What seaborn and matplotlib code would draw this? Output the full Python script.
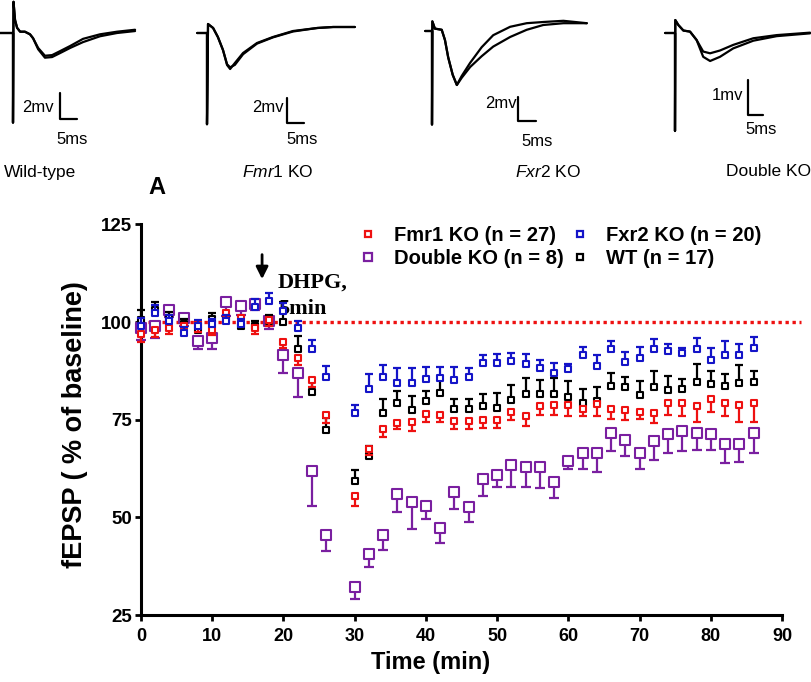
import numpy as np
import pandas as pd
import matplotlib
matplotlib.use("Agg")
import matplotlib.pyplot as plt
import seaborn as sns
from matplotlib.lines import Line2D

#time points of the dhpg experiment (min)
time_min = [0, 2, 4, 6, 8, 10, 12, 14, 16, 18, 20, 22, 24, 26, 28, 30, 32, 34, 36, 38, 40, 42,
            44, 46, 48, 50, 52, 54, 56, 58, 60, 62, 64, 66, 68, 70, 72, 74, 76, 78, 80, 82, 84, 86]
nan = np.nan

#fEPSP as % of baseline, mean and one sided sem
fmr1_mean = [97.0, 98.1, 98.5, 98.9, 99.5, 98.1, 102.3, 101.1, 98.5, 100.6, 94.9, 90.9, 85.3, 76.1, nan,
             55.6, 67.5, 72.6, 74.1, 74.3, 76.4, 76.1, 74.7, 74.7, 75.0, 75.0, 77.1, 76.0, 78.4, 78.7,
             78.7, 77.8, 79.0, 77.8, 77.5, 77.1, 76.8, 79.4, 79.4, 78.4, 80.2, 79.2, 78.7, 79.2]
fmr1_sem = [2.0, 2.0, 1.5, 1.5, 2.0, 1.5, 1.5, 1.5, 1.5, 1.5, 1.5, 2.0, 2.0, 2.0, nan,
            2.6, 1.5, 2.1, 1.5, 2.1, 2.1, 1.7, 2.0, 2.0, 2.0, 2.0, 2.2, 2.6, 2.1, 2.5,
            2.7, 1.9, 3.0, 2.7, 2.6, 2.0, 2.6, 3.2, 3.4, 4.1, 3.2, 3.2, 4.4, 4.9]

fxr2_mean = [99.0, 102.3, 100.2, 97.2, 99.0, 99.4, 100.2, 99.4, 104.0, 105.3, 102.8, 98.5, 93.0, 86.0, nan,
             76.8, 82.8, 86.0, 84.5, 84.5, 85.5, 85.8, 85.3, 85.9, 89.6, 89.6, 90.0, 89.2, 88.3, 86.9,
             87.9, 91.7, 88.7, 93.0, 89.8, 90.9, 93.2, 92.6, 92.0, 93.2, 90.4, 91.5, 91.5, 93.4]
fxr2_sem = [2.0, 2.0, 1.5, 1.5, 1.5, 1.5, 1.5, 1.5, 2.0, 2.1, 2.0, 1.7, 2.5, 2.7, nan,
            2.1, 3.8, 2.9, 3.7, 3.7, 3.1, 2.8, 3.2, 2.4, 1.9, 2.3, 2.1, 2.6, 2.1, 2.7,
            1.4, 2.0, 3.0, 2.1, 2.6, 2.8, 2.6, 1.7, 1.4, 2.8, 3.0, 3.7, 3.0, 2.8]

wt_mean = [100.5, 103.2, 101.1, 99.4, 98.1, 100.8, 101.3, 98.9, 98.9, 100.2, 100.0, 93.2, 82.1, 72.4, nan,
           59.4, 65.8, 76.7, 79.2, 77.4, 79.8, 81.8, 77.7, 77.7, 78.4, 78.1, 80.1, 81.5, 81.5, 81.5,
           80.7, 79.2, 79.8, 83.6, 83.4, 81.3, 83.4, 82.5, 82.9, 84.7, 84.1, 83.6, 84.3, 84.7]
wt_sem = [2.5, 1.9, 1.5, 1.5, 1.5, 1.5, 1.5, 1.5, 1.5, 1.5, 5.1, 3.3, 2.8, 3.1, nan,
          2.8, 2.5, 3.6, 3.1, 3.8, 2.6, 3.6, 2.7, 2.6, 3.1, 3.8, 3.7, 4.3, 3.7, 4.3,
          4.3, 3.7, 3.7, 3.4, 2.6, 3.6, 4.0, 3.6, 2.6, 4.6, 3.4, 3.2, 4.8, 2.8]

dko_mean = [98.5, 98.9, 103.2, 101.1, 95.1, 96.0, 105.1, 104.2, 104.7, 100.2, 91.7, 87.0, 61.9, 45.4, nan,
            32.2, 40.7, 45.4, 56.0, 53.9, 53.0, 47.2, 56.4, 52.6, 59.8, 60.8, 63.3, 62.8, 62.8, 59.0,
            64.5, 66.6, 66.6, 71.7, 69.9, 66.6, 69.6, 71.3, 72.0, 71.5, 71.3, 68.7, 68.9, 71.7]
dko_sem = [3.0, 2.9, 2.0, 2.0, 2.0, 3.0, 3.6, 2.5, 1.7, 2.0, 4.8, 6.3, 9.0, 3.9, nan,
           3.0, 3.4, 3.8, 4.6, 6.8, 3.4, 3.8, 4.2, 3.8, 4.3, 3.1, 5.6, 4.9, 5.4, 4.0,
           2.1, 4.2, 5.1, 4.8, 4.1, 4.2, 4.9, 4.7, 4.9, 4.2, 4.0, 4.9, 4.8, 5.1]

#example fEPSP traces (ms, mV), two traces per genotype (baseline and after dhpg)
wt_ms = [-3.8, 0, 0, 0.15, 0.6, 1.2, 2.1, 3.5, 5.0, 5.9, 7.4, 9.4, 11.5, 13.8, 16.8, 20.6, 25.6, 30.6, 35.9]
wt_a = [0, 0, -6.9, 2.4, 1.0, 0.4, 0.1, 0.1, -0.1, -0.4, -1.15, -1.75, -1.7, -1.4, -1.0, -0.45, -0.1, 0.1, 0.25]
wt_b = [0, 0, -6.9, 2.4, 1.0, 0.4, 0.1, 0.1, -0.1, -0.4, -1.25, -1.9, -1.85, -1.55, -1.15, -0.7, -0.25, 0.0, 0.15]

fmr1_ms = [-2.9, 0, 0, 0.3, 1.8, 3.2, 4.7, 5.9, 6.8, 8.2, 10.6, 14.7, 19.4, 25.3, 32.4, 37.1, 43.5]
fmr1_a = [0, 0, -7.3, 0.72, 0.4, -0.32, -1.36, -2.56, -2.88, -2.4, -1.6, -0.8, -0.32, 0.16, 0.4, 0.48, 0.48]
fmr1_b = [0, 0, -7.3, 0.72, 0.4, -0.32, -1.36, -2.5, -2.75, -2.55, -1.7, -0.85, -0.35, 0.12, 0.4, 0.48, 0.48]

fxr2_ms = [-1.9, 0, 0, 0.1, 0.8, 2.7, 3.6, 4.5, 5.75, 6.9, 8.25, 10.6, 13.8, 17.0, 21.7, 26.3, 30.9, 36.5, 43.0]
fxr2_a = [0, 0, -7.8, 0.8, 0.2, 0.1, -0.75, -2.2, -3.65, -4.5, -3.75, -2.65, -1.35, -0.35, 0.35, 0.65, 0.75, 0.85, 0.65]
fxr2_b = [0, 0, -7.8, 0.8, 0.2, 0.1, -0.75, -2.2, -3.65, -4.5, -3.9, -3.0, -2.1, -1.3, -0.5, 0.1, 0.5, 0.65, 0.65]

dko_ms = [-3.3, 0, 0, 0.1, 1.1, 2.8, 5.0, 7.2, 9.4, 11.7, 15.0, 19.4, 26.1, 33.9, 45.0]
dko_a = [0, 0, -2.8, 0.37, 0.23, 0.07, 0.04, -0.2, -0.53, -0.58, -0.5, -0.34, -0.15, -0.06, 0.01]
dko_b = [0, 0, -2.8, 0.37, 0.23, 0.07, 0.04, -0.2, -0.68, -0.8, -0.68, -0.44, -0.22, -0.09, -0.01]

sns.set_style("ticks")
plt.rcParams['font.family'] = ['Liberation Sans', 'DejaVu Sans']
plt.rcParams['mathtext.fontset'] = 'custom'
plt.rcParams['mathtext.it'] = 'Liberation Sans:italic'
plt.rcParams['mathtext.rm'] = 'Liberation Sans'
for key in ['text.color', 'axes.labelcolor', 'xtick.color', 'ytick.color', 'axes.edgecolor']:
    plt.rcParams[key] = 'black'

W, H = 812, 682
fig = plt.figure(figsize=(W / 100, H / 100), dpi=100)


def px_axes(x0, y0, x1, y1):
    #axes from a pixel box (top left origin)
    return fig.add_axes([x0 / W, 1 - y1 / H, (x1 - x0) / W, (y1 - y0) / H])


def fig_text(x, y, s, **kw):
    fig.text(x / W, 1 - y / H, s, **kw)


#top row: example traces with scale bars
panels = [
    #box, origin px, px per ms, px per mV, bar corner px, bar mV, traces
    dict(box=(0, 0, 150, 150), o=(13, 33), sx=3.4, sy=13.0, bar=(60, 119), mv=2,
         ms=wt_ms, a=wt_a, b=wt_b),
    dict(box=(185, 0, 370, 150), o=(207, 33), sx=3.4, sy=12.5, bar=(287, 123), mv=2,
         ms=fmr1_ms, a=fmr1_a, b=fmr1_b),
    dict(box=(415, 0, 600, 150), o=(432, 31), sx=3.6, sy=12.0, bar=(518, 121), mv=2,
         ms=fxr2_ms, a=fxr2_a, b=fxr2_b),
    dict(box=(655, 0, 812, 150), o=(675, 33), sx=3.0, sy=35.0, bar=(748, 115), mv=1,
         ms=dko_ms, a=dko_a, b=dko_b),
]
for p in panels:
    x0, y0, x1, y1 = p["box"]
    ox, oy = p["o"]
    axt = px_axes(x0, y0, x1, y1)
    axt.set_xlim((x0 - ox) / p["sx"], (x1 - ox) / p["sx"])
    axt.set_ylim((oy - y1) / p["sy"], (oy - y0) / p["sy"])
    axt.axis("off")
    axt.plot(p["ms"], p["a"], color="black", lw=1.6, clip_on=False)
    axt.plot(p["ms"], p["b"], color="black", lw=1.6, clip_on=False)
    cx = (p["bar"][0] - ox) / p["sx"]
    cy = (oy - p["bar"][1]) / p["sy"]
    axt.plot([cx, cx, cx + 5], [cy + p["mv"], cy, cy], color="black", lw=1.6, clip_on=False)

bar_font = dict(fontsize=12, color="black")
fig_text(54, 107, "2mv", ha="right", va="center", **bar_font)
fig_text(72, 140, "5ms", ha="center", va="center", **bar_font)
fig_text(284, 108, "2mv", ha="right", va="center", **bar_font)
fig_text(302, 140, "5ms", ha="center", va="center", **bar_font)
fig_text(517, 104, "2mv", ha="right", va="center", **bar_font)
fig_text(537, 142, "5ms", ha="center", va="center", **bar_font)
fig_text(743, 95, "1mv", ha="right", va="center", **bar_font)
fig_text(761, 130, "5ms", ha="center", va="center", **bar_font)

fig_text(4, 172, "Wild-type", ha="left", va="center", fontsize=12.5)
fig_text(278, 172, r"$\mathit{Fmr1}$ KO", ha="center", va="center", fontsize=12.5)
fig_text(548, 172, r"$\mathit{Fxr2}$ KO", ha="center", va="center", fontsize=12.5)
fig_text(811, 172, "Double KO", ha="right", va="center", fontsize=12.5)

fig_text(148, 187, "A", ha="left", va="center", fontsize=17, fontweight="bold")

#main time course panel
ax = px_axes(141, 224.5, 782, 615)

red = "#EE1111"
blue = "#1414C8"
purple = "#7A1FA0"
series = [
    #label, mean, sem, error side, colour, marker size (pt), cap (pt)
    ("Double KO (n = 8)", dko_mean, dko_sem, "down", purple, 7.2, 3.6),
    ("WT (n = 17)", wt_mean, wt_sem, "up", "black", 5.0, 2.9),
    ("Fmr1 KO (n = 27)", fmr1_mean, fmr1_sem, "down", red, 5.0, 2.9),
    ("Fxr2 KO (n = 20)", fxr2_mean, fxr2_sem, "up", blue, 5.0, 2.9),
]

for z, (label, mean, sem, side, color, msize, cap) in enumerate(series):
    mean = np.array(mean, dtype=float)
    sem = np.array(sem, dtype=float)
    zero = np.zeros_like(sem)
    yerr = [sem, zero] if side == "down" else [zero, sem]
    ax.errorbar(time_min, mean, yerr=yerr, fmt="none", ecolor=color, elinewidth=1.6,
                capsize=cap, capthick=1.6, zorder=3 + 2 * z, clip_on=False)
    df = pd.DataFrame({"time": time_min, "value": mean}).dropna()
    sns.scatterplot(data=df, x="time", y="value", marker="s", s=msize ** 2,
                    color="white", edgecolor=color, linewidth=1.5, ax=ax,
                    zorder=4 + 2 * z, clip_on=False)

#baseline reference
ax.axhline(100, xmin=0, xmax=1.03, color=red, lw=2.4, ls=(0, (1, 1.1)), zorder=2, clip_on=False)

#dhpg application
ax.annotate("", xy=(17, 110.3), xytext=(17, 118),
            arrowprops=dict(arrowstyle="-|>", color="black", lw=2, mutation_scale=18))
ax.text(19.2, 110.2, "DHPG,", family=["Liberation Serif"], fontweight="bold", fontsize=16,
        ha="left", va="center", zorder=1)
ax.text(19.2, 103.3, "5min", family=["Liberation Serif"], fontweight="bold", fontsize=16,
        ha="left", va="center", zorder=1)

ax.set_xlim(0, 90)
ax.set_ylim(25, 125)
ax.set_xticks([0, 10, 20, 30, 40, 50, 60, 70, 80, 90])
ax.set_yticks([25, 50, 75, 100, 125])
sns.despine(ax=ax)
for side in ["left", "bottom"]:
    ax.spines[side].set_linewidth(2.2)
ax.tick_params(axis="both", width=2, length=4.5)
ax.tick_params(axis="x", pad=5)
ax.tick_params(axis="y", pad=2)
plt.setp(ax.get_xticklabels(), fontweight="bold", fontsize=13)
plt.setp(ax.get_yticklabels(), fontweight="bold", fontsize=13.5)
ax.set_xlabel("Time (min)", fontweight="bold", fontsize=17)
ax.xaxis.set_label_coords((431 - 141) / 641, -0.092)
ax.set_ylabel("fEPSP ( % of baseline)", fontweight="bold", fontsize=19.5)
ax.yaxis.set_label_coords((88 - 141) / 641, 0.487)

#legend, two columns
def handle(color, msize):
    return Line2D([], [], marker="s", ls="none", markerfacecolor="white",
                  markeredgecolor=color, markersize=msize, markeredgewidth=1.6)

handles = [handle(red, 5), handle(purple, 5.5), handle(blue, 5), handle("black", 4.5)]
labels = ["Fmr1 KO (n = 27)", "Double KO (n = 8)", "Fxr2 KO (n = 20)", "WT (n = 17)"]
fig.legend(handles, labels, loc="upper left", bbox_to_anchor=(350 / W, 1 - 218 / H),
           ncol=2, frameon=False, handlelength=1.0, handletextpad=0.8, columnspacing=0.3,
           labelspacing=0.2, prop=dict(weight="bold", size=14.5), borderaxespad=0)

fig.savefig("out.png", dpi=100)
